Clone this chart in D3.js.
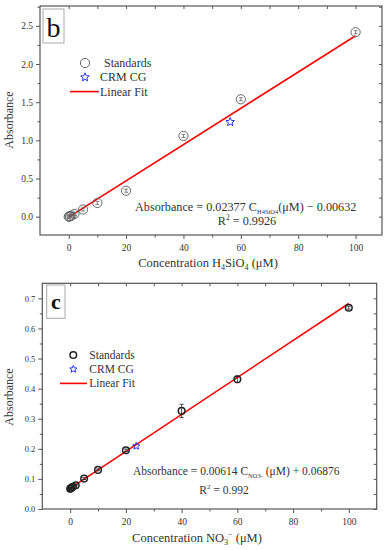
<!DOCTYPE html>
<html><head><meta charset="utf-8">
<script src="https://cdn.jsdelivr.net/npm/d3@7"></script>
<style>body{margin:0;background:#fff}svg{display:block}text{font-family:"Liberation Serif","Times New Roman",serif;fill:#333}</style>
</head><body><svg id="c" width="389" height="550"></svg>
<script>
// Panel b data (H4SiO4)
const bConc = [0, 0.2, 0.5, 1, 2, 5, 10, 20, 40, 60, 100];
const bAbs  = [0.0, 0.002, 0.006, 0.015, 0.035, 0.094, 0.18, 0.34, 1.058, 1.538, 2.417];
const bErr  = [0.02, 0.02, 0.02, 0.02, 0.02, 0.02, 0.02, 0.02, 0.02, 0.02, 0.02];
const bCrmConc = [56.3];
const bCrmAbs  = [1.24];
const bFit = [0.02377, -0.00632];
const bFitRange = [0, 100];
const bYTicks = [0.0, 0.5, 1.0, 1.5, 2.0, 2.5];
const bXTicks = [0, 20, 40, 60, 80, 100];

// Panel c data (NO3-)
const cConc = [0, 0.25, 0.5, 1, 2, 5, 10, 20, 40, 60, 100];
const cAbs  = [0.067, 0.069, 0.071, 0.074, 0.079, 0.101, 0.13, 0.195, 0.326, 0.431, 0.669];
const cErr  = [0.002, 0.002, 0.002, 0.002, 0.002, 0.003, 0.003, 0.004, 0.022, 0.011, 0.005];
const cCrmConc = [23.7];
const cCrmAbs  = [0.209];
const cFit = [0.00614, 0.06876];
const cFitRange = [0, 100];
const cYTicks = [0.0, 0.1, 0.2, 0.3, 0.4, 0.5, 0.6, 0.7];
const cXTicks = [0, 20, 40, 60, 80, 100];

const svg = d3.select("#c");
const axisCol = "#555";

function starPath(cx, cy, R) {
  const r = R * 0.45; let p = [];
  for (let i = 0; i < 10; i++) {
    const a = -Math.PI/2 + i*Math.PI/5, rr = i%2 ? r : R;
    p.push([cx + rr*Math.cos(a), cy + rr*Math.sin(a)]);
  }
  return "M" + p.map(d => d.join(",")).join("L") + "Z";
}

function panel(o) {
  const g = svg.append("g");
  const x = d3.scaleLinear().domain(o.xDom).range([o.L, o.R]);
  const y = d3.scaleLinear().domain(o.yDom).range([o.B, o.T]);
  g.append("rect").attr("x", o.L).attr("y", o.T).attr("width", o.R-o.L).attr("height", o.B-o.T)
    .attr("fill", "none").attr("stroke", axisCol).attr("stroke-width", 1.2);
  const xMinor = d3.range(-10, 111, 10).filter(v => v > o.xDom[0] && v < o.xDom[1] && o.xTicks.indexOf(v) < 0);
  const bx = g.append("g").attr("transform", `translate(0,${o.B})`)
    .call(d3.axisBottom(x).tickValues(o.xTicks).tickSize(4).tickPadding(5).tickFormat(d3.format("d")));
  bx.select(".domain").remove();
  bx.selectAll("line").attr("stroke", axisCol);
  bx.selectAll("text").attr("font-size", o.xfs).attr("font-family", null).attr("fill", "#333");
  g.append("g").attr("transform", `translate(0,${o.B})`)
    .call(d3.axisBottom(x).tickValues(xMinor).tickSize(2.5).tickFormat(""))
    .call(s => { s.select(".domain").remove(); s.selectAll("line").attr("stroke", axisCol); });
  g.append("g").attr("transform", `translate(0,${o.T})`)
    .call(d3.axisBottom(x).tickValues(o.xTicks.concat(xMinor)).tickSize(3).tickFormat(""))
    .call(s => { s.select(".domain").remove(); s.selectAll("line").attr("stroke", axisCol); });
  const step = o.yTicks[1] - o.yTicks[0];
  const yMinor = o.yTicks.map(v => v + step/2).filter(v => v > o.yDom[0] && v < o.yDom[1]);
  if (o.yTicks[0] - step/2 > o.yDom[0]) yMinor.unshift(o.yTicks[0] - step/2);
  const ly = g.append("g").attr("transform", `translate(${o.L},0)`)
    .call(d3.axisLeft(y).tickValues(o.yTicks).tickSize(4).tickPadding(3).tickFormat(d3.format(".1f")));
  ly.select(".domain").remove();
  ly.selectAll("line").attr("stroke", axisCol);
  ly.selectAll("text").attr("font-size", o.yfs).attr("font-family", null).attr("fill", "#333");
  g.append("g").attr("transform", `translate(${o.L},0)`)
    .call(d3.axisLeft(y).tickValues(yMinor).tickSize(2.5).tickFormat(""))
    .call(s => { s.select(".domain").remove(); s.selectAll("line").attr("stroke", axisCol); });
  g.append("g").attr("transform", `translate(${o.R},0)`)
    .call(d3.axisRight(y).tickValues(o.yTicks.concat(yMinor)).tickSize(-3).tickFormat(""))
    .call(s => { s.select(".domain").remove(); s.selectAll("line").attr("stroke", axisCol); });

  g.append("line")
    .attr("x1", x(o.fitRange[0])).attr("y1", y(o.fit[0]*o.fitRange[0] + o.fit[1]))
    .attr("x2", x(o.fitRange[1])).attr("y2", y(o.fit[0]*o.fitRange[1] + o.fit[1]))
    .attr("stroke", "#f00").attr("stroke-width", 1.6);

  const eg = g.append("g").attr("stroke", o.ptCol).attr("stroke-width", 0.8);
  o.conc.forEach((c, i) => {
    const cx = x(c), y1 = y(o.abs[i] + o.err[i]), y2 = y(o.abs[i] - o.err[i]);
    eg.append("line").attr("x1", cx).attr("x2", cx).attr("y1", y1).attr("y2", y2);
    eg.append("line").attr("x1", cx-2).attr("x2", cx+2).attr("y1", y1).attr("y2", y1);
    eg.append("line").attr("x1", cx-2).attr("x2", cx+2).attr("y1", y2).attr("y2", y2);
  });
  g.append("g").selectAll("circle").data(o.conc).join("circle")
    .attr("cx", d => x(d)).attr("cy", (d, i) => y(o.abs[i])).attr("r", o.r)
    .attr("fill", "none").attr("stroke", o.ptCol).attr("stroke-width", o.ptW);
  g.append("g").selectAll("path").data(o.crmC).join("path")
    .attr("d", (d, i) => starPath(x(d), y(o.crmA[i]), o.starR))
    .attr("fill", "none").attr("stroke", "#2233ff").attr("stroke-width", 1);

  g.append("rect").attr("x", o.lab.x).attr("y", o.lab.y).attr("width", o.lab.w).attr("height", o.lab.h)
    .attr("fill", "#fff").attr("stroke", "#aaa").attr("stroke-width", 1);
  g.append("text").attr("x", o.lab.x + o.lab.w/2).attr("y", o.lab.ty).attr("text-anchor", "middle")
    .attr("font-size", o.lab.fs).attr("font-weight", o.lab.fw).style("fill", "#111").text(o.lab.t);

  const lg = o.leg;
  g.append("circle").attr("cx", lg.sx).attr("cy", lg.y0).attr("r", o.r)
    .attr("fill", "none").attr("stroke", o.ptCol).attr("stroke-width", o.ptW);
  g.append("path").attr("d", starPath(lg.sx, lg.y0 + lg.dy, o.starR))
    .attr("fill", "none").attr("stroke", "#2233ff").attr("stroke-width", 1);
  g.append("line").attr("x1", lg.lx1).attr("x2", lg.lx2).attr("y1", lg.y0 + 2*lg.dy).attr("y2", lg.y0 + 2*lg.dy)
    .attr("stroke", "#f00").attr("stroke-width", 1.6);
  [["Standards", lg.tx0], ["CRM CG", lg.tx], ["Linear Fit", lg.tx]].forEach((t, i) => {
    g.append("text").attr("x", t[1]).attr("y", lg.y0 + i*lg.dy + 4).attr("font-size", lg.fs).text(t[0]);
  });

  g.append("text").attr("transform", `translate(${o.yTitle.x},${o.yTitle.y}) rotate(-90)`)
    .attr("text-anchor", "middle").attr("font-size", 12).text("Absorbance");
  return {g, x, y};
}

// ---------- Panel b ----------
const pb = panel({
  L: 40, R: 382, T: 6, B: 235,
  xDom: [-10, 109.2], yDom: [-0.24, 2.76],
  xTicks: bXTicks, yTicks: bYTicks, xfs: 9.5, yfs: 9.5,
  conc: bConc, abs: bAbs, err: bErr, crmC: bCrmConc, crmA: bCrmAbs,
  fit: bFit, fitRange: bFitRange, ptCol: "#666", ptW: 1, r: 4.6, starR: 4.5,
  lab: {x: 43, y: 9, w: 21, h: 34, ty: 37, fs: 28, fw: "normal", t: "b"},
  leg: {sx: 85, y0: 63, dy: 14.3, lx1: 70, lx2: 99, tx0: 104, tx: 100, fs: 12},
  yTitle: {x: 13, y: 120}
});
{
  const t = pb.g.append("text").attr("x", 135).attr("y", 211).attr("font-size", 12.2);
  t.append("tspan").text("Absorbance = 0.02377 C");
  t.append("tspan").attr("font-size", 6.5).attr("dy", 3).text("H4SiO4");
  t.append("tspan").attr("dy", -3).text("(μM) − 0.00632");
  const r = pb.g.append("text").attr("x", 247).attr("y", 225).attr("font-size", 12.2).attr("text-anchor", "middle");
  r.append("tspan").text("R");
  r.append("tspan").attr("font-size", 7.5).attr("dy", -5).text("2");
  r.append("tspan").attr("dy", 5).text(" = 0.9926");
  const xt = pb.g.append("text").attr("x", 208).attr("y", 267).attr("font-size", 12.5).attr("text-anchor", "middle");
  xt.append("tspan").text("Concentration H");
  xt.append("tspan").attr("font-size", 8).attr("dy", 3).text("4");
  xt.append("tspan").attr("dy", -3).text("SiO");
  xt.append("tspan").attr("font-size", 8).attr("dy", 3).text("4");
  xt.append("tspan").attr("dy", -3).text(" (μM)");
}

// ---------- Panel c ----------
const pc = panel({
  L: 42.3, R: 376.7, T: 283.3, B: 509,
  xDom: [-10, 110], yDom: [0, 0.75],
  xTicks: cXTicks, yTicks: cYTicks, xfs: 9.5, yfs: 8.5,
  conc: cConc, abs: cAbs, err: cErr, crmC: cCrmConc, crmA: cCrmAbs,
  fit: cFit, fitRange: cFitRange, ptCol: "#222", ptW: 1.5, r: 3.3, starR: 3.8,
  lab: {x: 46.7, y: 285, w: 18.3, h: 33.3, ty: 309, fs: 22, fw: "bold", t: "c"},
  leg: {sx: 73.3, y0: 355, dy: 14.2, lx1: 60, lx2: 87, tx0: 89.3, tx: 89.3, fs: 11.5},
  yTitle: {x: 13, y: 397}
});
{
  const t = pc.g.append("text").attr("x", 133).attr("y", 475).attr("font-size", 11.5);
  t.append("tspan").text("Absorbance = 0.00614 C");
  t.append("tspan").attr("font-size", 6.5).attr("dy", 3).text("NO3-");
  t.append("tspan").attr("dy", -3).text(" (μM) + 0.06876");
  const r = pc.g.append("text").attr("x", 224).attr("y", 494).attr("font-size", 11.5).attr("text-anchor", "middle");
  r.append("tspan").text("R");
  r.append("tspan").attr("font-size", 7).attr("dy", -5).text("2");
  r.append("tspan").attr("dy", 5).text(" = 0.992");
  const xt = pc.g.append("text").attr("x", 197).attr("y", 542).attr("font-size", 12.5).attr("text-anchor", "middle");
  xt.append("tspan").text("Concentration NO");
  xt.append("tspan").attr("font-size", 8).attr("dy", 3).text("3");
  xt.append("tspan").attr("font-size", 8).attr("dy", -8).text("−");
  xt.append("tspan").attr("dy", 5).text(" (μM)");
}
</script></body></html>
